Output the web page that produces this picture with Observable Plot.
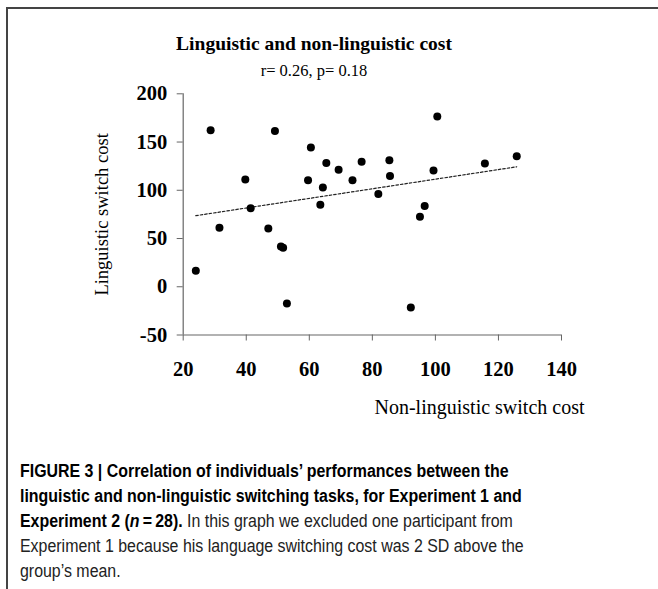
<!DOCTYPE html>
<html>
<head>
<meta charset="utf-8">
<script src="https://cdn.jsdelivr.net/npm/d3@7"></script>
<script src="https://cdn.jsdelivr.net/npm/@observablehq/plot@0.6"></script>
<style>
  html, body { margin: 0; padding: 0; background: #fff; }
  body { width: 658px; height: 589px; position: relative; overflow: hidden; }
  #frame { position: absolute; left: 6px; top: 7px; width: 700px; height: 700px;
           border-top: 2px solid #444; border-left: 2px solid #444; }
  #title { position: absolute; left: 0; width: 628px; top: 33px; text-align: center;
           font: bold 19.5px "Liberation Serif", "Times New Roman", serif; color: #000; }
  #subtitle { position: absolute; left: 0; width: 628px; top: 61px; text-align: center;
           font: 16.5px "Liberation Serif", "Times New Roman", serif; color: #000; }
  #chart { position: absolute; left: 0; top: 85px; }
  #caption { position: absolute; left: 20px; top: 459px; width: 700px;
             font: 17.5px "Liberation Sans", Arial, sans-serif;
             line-height: 25px; color: #222; white-space: nowrap;
             transform: scaleX(0.91); transform-origin: 0 0; }
  #caption b { color: #000; }
</style>
</head>
<body>
<div id="frame"></div>
<div id="title">Linguistic and non-linguistic cost</div>
<div id="subtitle">r= 0.26, p= 0.18</div>
<div id="chart"></div>
<div id="caption"></div>
<script>
// Non-linguistic switch cost (x) and linguistic switch cost (y), one value per participant
const nonLinguisticCost = [24.0, 28.7, 31.5, 39.7, 41.4, 49.1, 47.0, 51.0, 51.7, 52.9, 59.6, 60.5, 63.5, 64.3,
                           65.4, 69.3, 73.7, 76.6, 81.9, 85.4, 85.6, 92.2, 95.1, 96.6, 99.4, 100.6, 115.7, 125.8];
const linguisticCost    = [16.5, 162.2, 61.1, 111.3, 81.4, 161.5, 60.5, 41.6, 40.5, -17.4, 110.3, 144.3, 84.9, 102.8,
                           128.2, 121.3, 110.3, 129.6, 96.2, 131.2, 114.8, -21.5, 72.5, 83.8, 120.6, 176.6, 127.8, 135.3];
const xTicks = [20, 40, 60, 80, 100, 120, 140];
const yTicks = [-50, 0, 50, 100, 150, 200];
const xLabel = "Non-linguistic switch cost";
const yLabel = "Linguistic switch cost";
const captionLines = [
  "<b>FIGURE 3 | Correlation of individuals\u2019 performances between the</b>",
  "<b>linguistic and non-linguistic switching tasks, for Experiment 1 and</b>",
  "<b>Experiment 2 (<i>n</i>\u2009=\u200928).</b> In this graph we excluded one participant from",
  "Experiment 1 because his language switching cost was 2 SD above the",
  "group\u2019s mean."
];

const data = nonLinguisticCost.map((x, i) => ({x, y: linguisticCost[i]}));

const chart = Plot.plot({
  width: 658,
  height: 335,
  marginLeft: 182.7,
  marginRight: 97,
  marginTop: 8.3,
  marginBottom: 85.5,
  x: {domain: [20, 140]},
  y: {domain: [-50, 200]},
  style: {fontFamily: "'Liberation Serif', 'Times New Roman', serif", fontSize: "19px", color: "#000", background: "transparent", overflow: "visible"},
  marks: [
    Plot.ruleX([20], {stroke: "#666", strokeWidth: 1.2}),
    Plot.ruleY([-50], {stroke: "#666", strokeWidth: 1.2}),
    Plot.axisX(xTicks, {tickSize: 6, tickPadding: 20, tickFormat: d => String(d), label: null, stroke: "#666", fill: "#000", fontWeight: "bold", fontSize: 20.5}),
    Plot.axisY(yTicks, {tickSize: 6, tickPadding: 10, tickFormat: d => String(d), label: null, stroke: "#666", fill: "#000", fontWeight: "bold", fontSize: 20.5}),
    Plot.linearRegressionY(data, {x: "x", y: "y", ci: 0, stroke: "#222", strokeWidth: 1.2, strokeDasharray: "2.5,2"}),
    Plot.dot(data, {x: "x", y: "y", r: 4, fill: "#000"}),
    Plot.text([yLabel], {text: d => d, frameAnchor: "left", dx: -81, rotate: -90, textAnchor: "middle", lineAnchor: "middle", fontSize: 18.5, fill: "#000"}),
    Plot.text([xLabel], {text: d => d, frameAnchor: "bottom-right", dx: 23, dy: 72.5, textAnchor: "end", lineAnchor: "middle", fontSize: 20, fill: "#000"})
  ]
});
document.getElementById("chart").appendChild(chart);
document.getElementById("caption").innerHTML = captionLines.join("<br>");
</script>
</body>
</html>
